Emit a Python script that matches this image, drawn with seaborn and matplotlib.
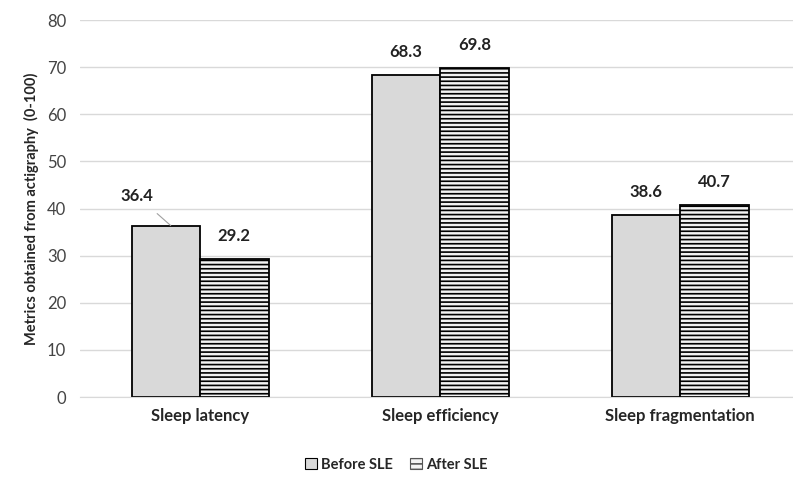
import pandas as pd
import seaborn as sns
import matplotlib.pyplot as plt
import matplotlib

categories = ['Sleep latency', 'Sleep efficiency', 'Sleep fragmentation']
before_sle = [36.4, 68.3, 38.6]
after_sle = [29.2, 69.8, 40.7]
series = ['Before SLE', 'After SLE']

sns.set_style('white')
plt.rcParams['font.family'] = ['Lato', 'DejaVu Sans']
plt.rcParams['hatch.color'] = '#b8b8b8'
plt.rcParams['hatch.linewidth'] = 1.2

df = pd.DataFrame({
    'metric': categories * 2,
    'value': before_sle + after_sle,
    'group': [series[0]] * 3 + [series[1]] * 3,
})

fig = plt.figure(figsize=(7.93, 4.79), dpi=100)
ax = fig.add_axes([0.101, 0.171, 0.899, 0.787])

sns.barplot(data=df, x='metric', y='value', hue='group', hue_order=series,
            palette=['#d9d9d9', '#f2f2f2'], width=0.57, edgecolor='black',
            linewidth=1.3, ax=ax, legend=False)

# horizontal line hatch on the "after" bars
for bar in ax.containers[1]:
    bar.set_hatch('----')

# value labels
for i, cont in enumerate(ax.containers):
    vals = before_sle if i == 0 else after_sle
    for j, (bar, v) in enumerate(zip(cont, vals)):
        x = bar.get_x() + bar.get_width() / 2
        if i == 0 and j == 0:
            ax.annotate(f'{v}', xy=(x + 0.02, v), xytext=(x - 0.12, v + 6.3),
                        ha='center', va='center', fontsize=12, fontweight='bold',
                        color='#222222',
                        arrowprops=dict(arrowstyle='-', color='#a0a0a0', lw=0.8,
                                        shrinkA=7, shrinkB=0))
        else:
            ax.text(x, v + 3.2, f'{v}', ha='center', va='bottom', fontsize=12,
                    fontweight='bold', color='#222222')

ax.set_ylim(0, 80)
ax.set_xlim(-0.5, 2.47)
ax.set_yticks(range(0, 81, 10))
ax.yaxis.grid(True, color='#d9d9d9', linewidth=1)
ax.set_axisbelow(True)
for s in ['top', 'right', 'left']:
    ax.spines[s].set_visible(False)
ax.spines['bottom'].set_color('#d9d9d9')
ax.tick_params(axis='y', length=0, labelsize=12, colors='#444444', pad=10)
ax.tick_params(axis='x', length=0, labelsize=12, pad=8)
for lab in ax.get_xticklabels():
    lab.set_fontweight('bold')
ax.set_xlabel('')
ax.set_ylabel('Metrics obtained from actigraphy  (0-100)', fontsize=10.5,
              fontweight='bold', labelpad=6)

handles = [matplotlib.patches.Patch(facecolor='#d9d9d9', edgecolor='black', linewidth=0.8),
           matplotlib.patches.Patch(facecolor='#f2f2f2', edgecolor='#555555', hatch='---', linewidth=0.8)]
fig.legend(handles, series, loc='center', bbox_to_anchor=(0.5, 0.03), ncol=2,
           frameon=False, handlelength=0.8, handleheight=0.8,
           handletextpad=0.3, columnspacing=1.2, prop={'weight': 'bold', 'size': 10.5})

fig.savefig('out.png', dpi=100)
